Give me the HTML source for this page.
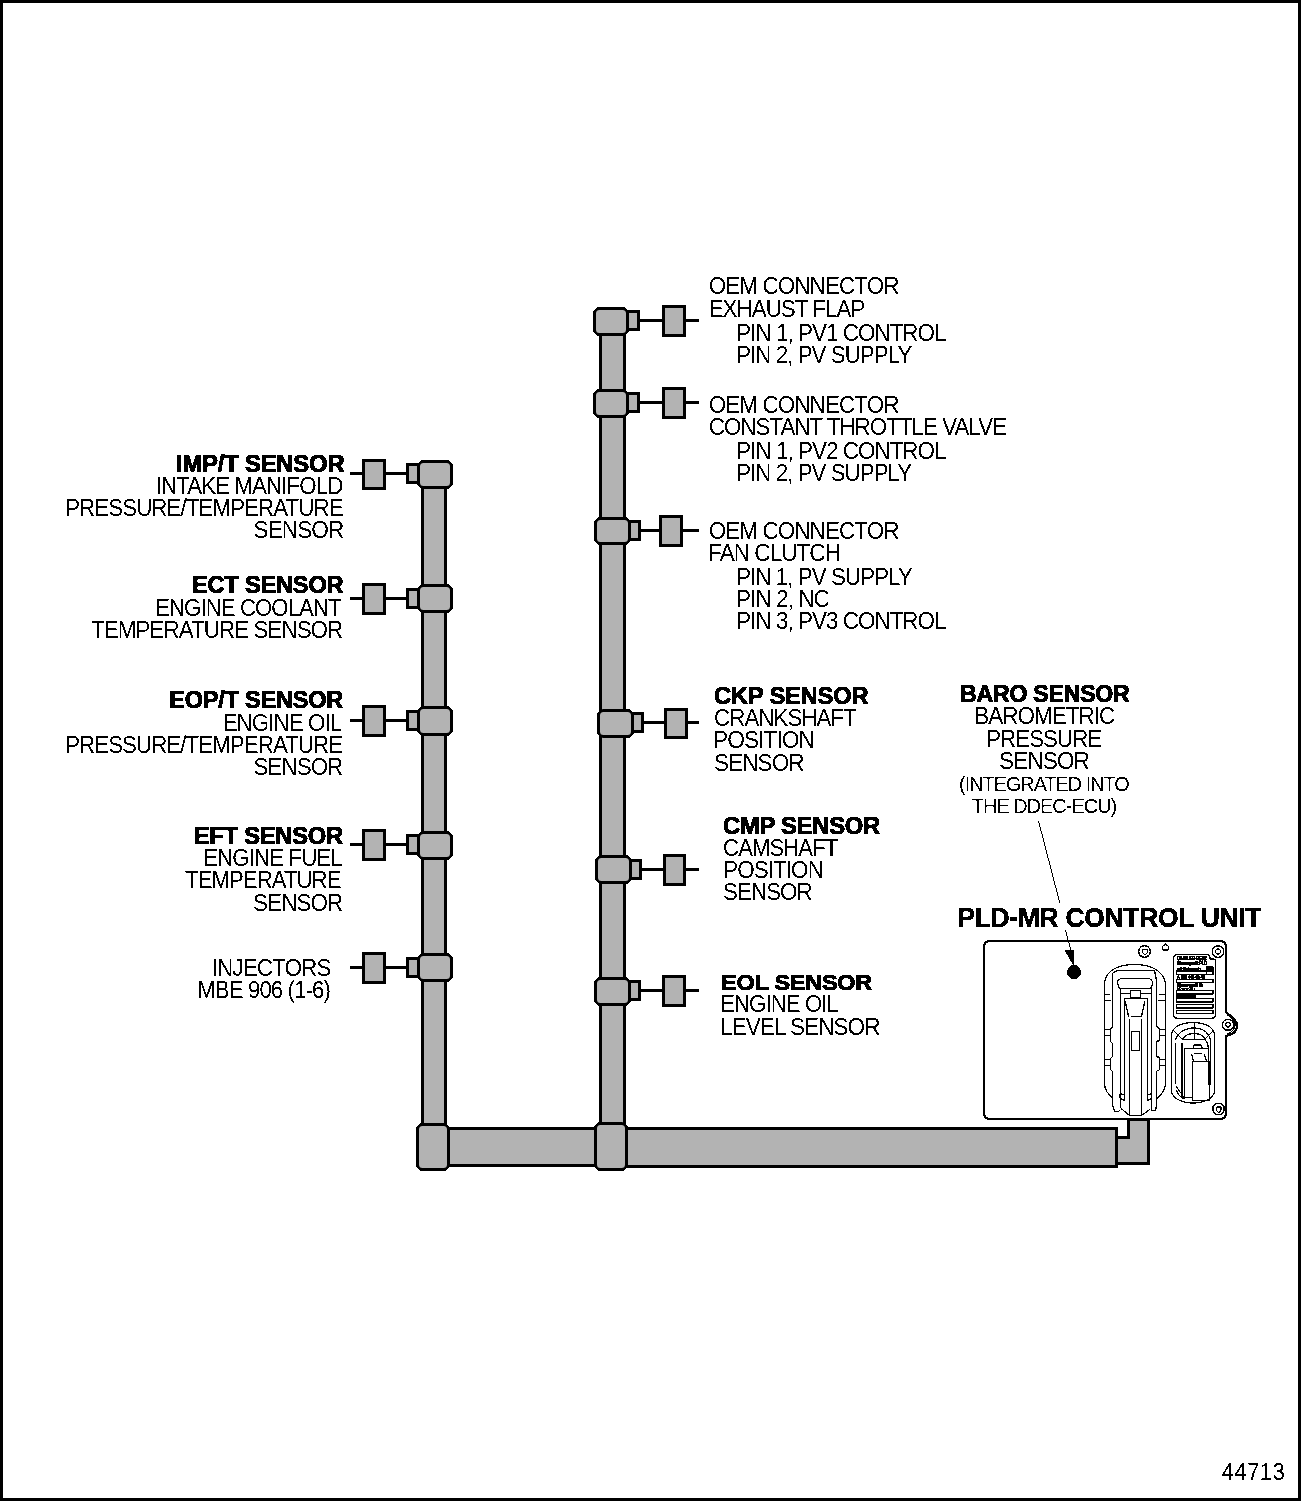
<!DOCTYPE html>
<html><head><meta charset="utf-8"><title>PLD-MR wiring</title>
<style>html,body{margin:0;padding:0;background:#fff;} svg{display:block;font-family:"Liberation Sans",sans-serif;}</style></head>
<body><svg width="1301" height="1501" viewBox="0 0 1301 1501">
<defs><filter id="crisp" x="0" y="0" width="1301" height="1501" filterUnits="userSpaceOnUse"><feComponentTransfer><feFuncA type="discrete" tableValues="0 1"/></feComponentTransfer></filter><filter id="crisp2" x="0" y="0" width="1301" height="1501" filterUnits="userSpaceOnUse"><feComponentTransfer><feFuncA type="discrete" tableValues="0 1 1"/></feComponentTransfer></filter></defs>
<rect x="1.5" y="1.5" width="1298" height="1498" rx="0" fill="#fff" stroke="#000" stroke-width="3"/>
<g filter="url(#crisp)">
<rect x="422.5" y="471.5" width="23" height="657" rx="0" fill="#b3b3b3" stroke="#000" stroke-width="3"/>
<rect x="446.5" y="1128.5" width="152" height="37" rx="0" fill="#b3b3b3" stroke="#000" stroke-width="3"/>
<rect x="621.5" y="1128.5" width="495" height="38" rx="0" fill="#b3b3b3" stroke="#000" stroke-width="3"/>
<rect x="600.5" y="331.5" width="24" height="793" rx="0" fill="#b3b3b3" stroke="#000" stroke-width="3"/>
<rect x="418.5" y="461.5" width="33" height="26" rx="5" fill="#b3b3b3" stroke="#000" stroke-width="3"/>
<rect x="418.5" y="585.5" width="33" height="26" rx="5" fill="#b3b3b3" stroke="#000" stroke-width="3"/>
<rect x="418.5" y="707.5" width="33" height="27" rx="5" fill="#b3b3b3" stroke="#000" stroke-width="3"/>
<rect x="418.5" y="832.5" width="33" height="26" rx="5" fill="#b3b3b3" stroke="#000" stroke-width="3"/>
<rect x="418.5" y="954.5" width="33" height="26" rx="5" fill="#b3b3b3" stroke="#000" stroke-width="3"/>
<rect x="417.5" y="1124.5" width="31" height="45" rx="5" fill="#b3b3b3" stroke="#000" stroke-width="3"/>
<rect x="595.5" y="1123.5" width="31" height="46" rx="5" fill="#b3b3b3" stroke="#000" stroke-width="3"/>
<rect x="350" y="472" width="14" height="3" fill="#000"/>
<rect x="384" y="472" width="24" height="3" fill="#000"/>
<rect x="407.5" y="464.5" width="11" height="18" rx="0" fill="#b3b3b3" stroke="#000" stroke-width="3"/>
<rect x="363.5" y="460.5" width="21" height="28" rx="0" fill="#b3b3b3" stroke="#000" stroke-width="3"/>
<rect x="350" y="597" width="14" height="3" fill="#000"/>
<rect x="384" y="597" width="24" height="3" fill="#000"/>
<rect x="407.5" y="589.5" width="11" height="18" rx="0" fill="#b3b3b3" stroke="#000" stroke-width="3"/>
<rect x="363.5" y="584.5" width="21" height="29" rx="0" fill="#b3b3b3" stroke="#000" stroke-width="3"/>
<rect x="350" y="719" width="14" height="3" fill="#000"/>
<rect x="384" y="719" width="24" height="3" fill="#000"/>
<rect x="407.5" y="711.5" width="11" height="18" rx="0" fill="#b3b3b3" stroke="#000" stroke-width="3"/>
<rect x="363.5" y="706.5" width="21" height="29" rx="0" fill="#b3b3b3" stroke="#000" stroke-width="3"/>
<rect x="350" y="843" width="14" height="3" fill="#000"/>
<rect x="384" y="843" width="24" height="3" fill="#000"/>
<rect x="407.5" y="835.5" width="11" height="18" rx="0" fill="#b3b3b3" stroke="#000" stroke-width="3"/>
<rect x="363.5" y="830.5" width="21" height="29" rx="0" fill="#b3b3b3" stroke="#000" stroke-width="3"/>
<rect x="350" y="966" width="14" height="3" fill="#000"/>
<rect x="384" y="966" width="24" height="3" fill="#000"/>
<rect x="407.5" y="958.5" width="11" height="18" rx="0" fill="#b3b3b3" stroke="#000" stroke-width="3"/>
<rect x="363.5" y="953.5" width="21" height="29" rx="0" fill="#b3b3b3" stroke="#000" stroke-width="3"/>
<rect x="638" y="319" width="26" height="3" fill="#000"/>
<rect x="684" y="319" width="15" height="3" fill="#000"/>
<rect x="594.5" y="308.5" width="33" height="26" rx="5" fill="#b3b3b3" stroke="#000" stroke-width="3"/>
<rect x="627.5" y="311.5" width="11" height="18" rx="0" fill="#b3b3b3" stroke="#000" stroke-width="3"/>
<rect x="663.5" y="306.5" width="21" height="29" rx="0" fill="#b3b3b3" stroke="#000" stroke-width="3"/>
<rect x="638" y="401" width="26" height="3" fill="#000"/>
<rect x="684" y="401" width="15" height="3" fill="#000"/>
<rect x="594.5" y="390.5" width="33" height="26" rx="5" fill="#b3b3b3" stroke="#000" stroke-width="3"/>
<rect x="627.5" y="393.5" width="11" height="18" rx="0" fill="#b3b3b3" stroke="#000" stroke-width="3"/>
<rect x="663.5" y="388.5" width="21" height="29" rx="0" fill="#b3b3b3" stroke="#000" stroke-width="3"/>
<rect x="639" y="529" width="22" height="3" fill="#000"/>
<rect x="681" y="529" width="18" height="3" fill="#000"/>
<rect x="595.5" y="518.5" width="34" height="25" rx="5" fill="#b3b3b3" stroke="#000" stroke-width="3"/>
<rect x="629.5" y="521.5" width="10" height="18" rx="0" fill="#b3b3b3" stroke="#000" stroke-width="3"/>
<rect x="660.5" y="516.5" width="21" height="29" rx="0" fill="#b3b3b3" stroke="#000" stroke-width="3"/>
<rect x="642" y="721" width="24" height="3" fill="#000"/>
<rect x="686" y="721" width="13" height="3" fill="#000"/>
<rect x="598.5" y="710.5" width="34" height="26" rx="5" fill="#b3b3b3" stroke="#000" stroke-width="3"/>
<rect x="632.5" y="713.5" width="10" height="18" rx="0" fill="#b3b3b3" stroke="#000" stroke-width="3"/>
<rect x="665.5" y="709.5" width="21" height="28" rx="0" fill="#b3b3b3" stroke="#000" stroke-width="3"/>
<rect x="640" y="868" width="25" height="3" fill="#000"/>
<rect x="684" y="868" width="15" height="3" fill="#000"/>
<rect x="596.5" y="856.5" width="34" height="26" rx="5" fill="#b3b3b3" stroke="#000" stroke-width="3"/>
<rect x="630.5" y="860.5" width="10" height="18" rx="0" fill="#b3b3b3" stroke="#000" stroke-width="3"/>
<rect x="664.5" y="855.5" width="20" height="29" rx="0" fill="#b3b3b3" stroke="#000" stroke-width="3"/>
<rect x="639" y="989" width="25" height="3" fill="#000"/>
<rect x="684" y="989" width="15" height="3" fill="#000"/>
<rect x="595.5" y="978.5" width="34" height="26" rx="5" fill="#b3b3b3" stroke="#000" stroke-width="3"/>
<rect x="629.5" y="981.5" width="10" height="18" rx="0" fill="#b3b3b3" stroke="#000" stroke-width="3"/>
<rect x="663.5" y="976.5" width="21" height="29" rx="0" fill="#b3b3b3" stroke="#000" stroke-width="3"/>
</g><g filter="url(#crisp2)">
<g fill="none" stroke="#000" stroke-width="1">
<!-- outline -->
<path d="M990,941 H1220 Q1226,941 1226,947 V1012 L1233,1018 Q1239,1024 1236,1030 Q1234,1034 1226,1036 V1113 Q1226,1119 1220,1119 H990 Q984,1119 984,1113 V947 Q984,941 990,941 Z" stroke-width="2"/>
<path d="M1227,1014.5 Q1235,1020 1235,1025 Q1235,1031 1227,1034" stroke-width="1"/>
<!-- screws -->
<circle cx="1144.5" cy="951.4" r="5.8" stroke-width="1.1"/>
<path d="M1142.5,949.5 H1147.5 V953 L1145,955 L1142.5,953 Z"/>
<circle cx="1218" cy="951.5" r="5.8" stroke-width="1.1"/>
<circle cx="1218" cy="951.5" r="2.6"/>
<circle cx="1228" cy="1024.8" r="5.6" stroke-width="1.1"/>
<circle cx="1228" cy="1024.8" r="2.3"/>
<circle cx="1218.5" cy="1109" r="5.8" stroke-width="1.1"/>
<path d="M1216.5,1107 H1221 V1110.5 L1218.8,1112.5 L1216.5,1110.5 Z"/>
<path d="M1162.5,946.5 L1165.5,944 L1168.5,946.5 L1168,950 H1163 Z"/>
<!-- label plate -->
<path d="M1178,954.5 H1208.5 L1210.5,959 H1213.5 Q1215.5,959 1215.5,961 V1014 Q1215.5,1018.5 1211,1018.5 H1178 Q1173.5,1018.5 1173.5,1014 V959 Q1173.5,954.5 1178,954.5 Z" stroke-width="1.2"/>
<rect x="1176.5" y="971" width="36.5" height="3.5"/>
<path d="M1206.5,971 V974.5"/>
<rect x="1176.5" y="979.5" width="36.5" height="3"/>
<rect x="1176.5" y="990.5" width="36.5" height="3.5"/>
<rect x="1176.5" y="998.5" width="36.5" height="3.5"/>
<rect x="1176.5" y="1004.5" width="36.5" height="3.5"/>
<rect x="1176.5" y="1010.5" width="36.5" height="3"/>
<!-- big connector -->
<path d="M1112.5,1098 Q1105,1092 1104.5,1084 V983 C1106,970 1119,964.5 1134.5,964.5 C1150,964.5 1163,970 1165.5,983 V1084 Q1165,1092 1156.5,1099"/>
<path d="M1117.5,970.5 H1154.5 L1156.5,981 V1026 L1159.5,1029 V1040.5 L1156.5,1041.5 V1056.5 L1159.5,1057.5 V1070 L1156.5,1071 V1105 L1155.5,1110.5 H1151.5"/>
<path d="M1117.5,970.5 L1112.5,973 V1027 L1110.5,1029 V1042 L1112.5,1043.5 V1056.5 L1110.5,1058 V1070 L1112.5,1071 V1105 L1114.5,1111.5 H1118.5 L1120.5,1110"/>
<path d="M1104.5,994.5 H1110 M1104.5,1000.5 H1110.5 M1104.5,1029.5 H1110 M1104.5,1035.5 H1110 M1104.5,1059.5 H1110 M1104.5,1065.5 H1110"/>
<path d="M1159,994.5 H1165.5 M1158.5,1000.5 H1165.5 M1159.5,1029.5 H1165 M1159.5,1035.5 H1165.5 M1159.5,1059.5 H1165.5 M1159.5,1065.5 H1165.5"/>
<path d="M1120,978.5 H1149.5 L1152.5,981 V984 L1150.5,988.5 H1119.5 L1117.5,983 V981 Z"/>
<path d="M1120.5,988.5 V1108 L1129.5,1115.5 H1141.5 L1150.5,1109 M1151.5,988.5 V1110"/>
<path d="M1120.5,993.5 H1130.5 M1140.5,993.5 H1151.5"/>
<rect x="1130.5" y="990.5" width="10" height="7"/>
<path d="M1124.5,1101 V998.5 H1147.5 V1101"/>
<path d="M1125,1000.5 L1128.5,1016.5 M1145,1000.5 L1141.5,1016.5 M1131,1016.5 H1141"/>
<path d="M1129.5,1019 V1116 M1141.5,1019 V1116"/>
<rect x="1131.5" y="1031.5" width="8" height="19"/>
<path d="M1124.5,1095 L1120,1093.5 V1098.5 L1124.5,1100.5 M1147.5,1095 L1151.5,1093.5 V1098.5 L1147.5,1100.5"/>
<!-- small connector -->
<path d="M1171.5,1035 C1171.5,1027 1182,1022.5 1193,1022.5 C1204,1022.5 1214.5,1027 1214.5,1035 V1091 C1214.5,1098 1204,1103 1193,1103 C1182,1103 1171.5,1098 1171.5,1091 Z"/>
<path d="M1175.5,1084 V1043 M1175.5,1040 C1177,1033 1185,1028 1194,1028 C1203,1028 1209,1033 1210.5,1040 V1085"/>
<path d="M1182.5,1039.5 C1184,1036 1188,1033.5 1194,1033.5 C1200,1033.5 1204,1036 1205.5,1039.5"/>
<path d="M1194.5,1022.5 V1039.5 M1174,1031 L1182.5,1039.5 M1213,1031 L1204.5,1039.5 M1182.5,1039.5 H1205"/>
<path d="M1182,1043 V1097.5 H1192.5 M1184.5,1048.5 V1097.5 M1184.5,1048.5 H1208.5 M1205,1039.5 Q1208.5,1043 1208.5,1048.5 V1085"/>
<path d="M1176,1086 L1184,1097.5 M1176,1090 Q1180,1098 1185,1099"/>
<rect x="1192.5" y="1061.5" width="17" height="39"/>
<path d="M1193.5,1048.5 V1045 H1201.5 L1202,1048.5"/>
<path d="M1194.5,1053.5 H1201.5 M1191.5,1054 L1193.5,1061 M1204,1054 L1206.5,1061"/>
</g>
<g fill="#000" stroke="#000" stroke-width="0.45" font-family="Liberation Sans" font-weight="bold">
<text x="1177" y="960" font-size="6" textLength="30" lengthAdjust="spacingAndGlyphs">DAIMLER-BENZ</text>
<text x="1177" y="965" font-size="6" textLength="30" lengthAdjust="spacingAndGlyphs">Steuergerät PLD</text>
<text x="1177" y="970.5" font-size="6" textLength="24" lengthAdjust="spacingAndGlyphs">mit Datensatz</text>
</g>
<g fill="#000" stroke="none" font-family="Liberation Sans" font-weight="bold">
<rect x="1206" y="966.5" width="7.5" height="4"/>
<text x="1177" y="978.5" font-size="5" textLength="28" lengthAdjust="spacingAndGlyphs" stroke="#000" stroke-width="0.3">A 000 446 00 40</text>
<text x="1177" y="986.5" font-size="5" textLength="26" lengthAdjust="spacingAndGlyphs" stroke="#000" stroke-width="0.4">Steuergerät Nr</text>
<text x="1177" y="990.5" font-size="4.5" textLength="24" lengthAdjust="spacingAndGlyphs">Motor-Nr ....</text>
<rect x="1176" y="995" width="20" height="3.5"/>
</g>

</g><g filter="url(#crisp)">
<path d="M1116.5,1137.5 H1128.5 V1119.5 H1148.5 V1163.5 H1116.5 Z" fill="#b3b3b3" stroke="#000" stroke-width="3"/>
<line x1="1038.5" y1="821" x2="1059.8" y2="903" stroke="#000" stroke-width="1"/>
<line x1="1065.5" y1="930" x2="1072" y2="955" stroke="#000" stroke-width="1"/>
<path d="M1064.5,950 L1074.5,950 L1073.5,966 Z" fill="#000"/>
<circle cx="1074" cy="972" r="7" fill="#000"/>
<text transform="translate(175.96,471.5) scale(1.0373,1)" font-size="23" font-weight="bold" style="letter-spacing:-0.2px" stroke="#000" stroke-width="0.9">IMP/T SENSOR</text>
<text transform="translate(155.64,494) scale(0.9322,1)" font-size="24" font-weight="normal" style="letter-spacing:-1.0px">INTAKE MANIFOLD</text>
<text transform="translate(65.14,516) scale(0.9307,1)" font-size="24" font-weight="normal" style="letter-spacing:-1.0px">PRESSURE/TEMPERATURE</text>
<text transform="translate(253.56,538) scale(0.9415,1)" font-size="24" font-weight="normal" style="letter-spacing:-1.0px">SENSOR</text>
<text transform="translate(191.97,592.5) scale(1.0274,1)" font-size="23" font-weight="bold" style="letter-spacing:-0.2px" stroke="#000" stroke-width="0.9">ECT SENSOR</text>
<text transform="translate(155.15,616) scale(0.9246,1)" font-size="24" font-weight="normal" style="letter-spacing:-1.0px">ENGINE COOLANT</text>
<text transform="translate(91.07,638) scale(0.9328,1)" font-size="24" font-weight="normal" style="letter-spacing:-1.0px">TEMPERATURE SENSOR</text>
<text transform="translate(169.28,707.5) scale(1.0219,1)" font-size="23" font-weight="bold" style="letter-spacing:-0.2px" stroke="#000" stroke-width="0.9">EOP/T SENSOR</text>
<text transform="translate(222.63,731) scale(0.9325,1)" font-size="24" font-weight="normal" style="letter-spacing:-1.0px">ENGINE OIL</text>
<text transform="translate(65.14,753) scale(0.9291,1)" font-size="24" font-weight="normal" style="letter-spacing:-1.0px">PRESSURE/TEMPERATURE</text>
<text transform="translate(253.57,775) scale(0.9309,1)" font-size="24" font-weight="normal" style="letter-spacing:-1.0px">SENSOR</text>
<text transform="translate(193.77,843.5) scale(1.0292,1)" font-size="23" font-weight="bold" style="letter-spacing:-0.2px" stroke="#000" stroke-width="0.9">EFT SENSOR</text>
<text transform="translate(203.14,866) scale(0.9320,1)" font-size="24" font-weight="normal" style="letter-spacing:-1.0px">ENGINE FUEL</text>
<text transform="translate(185.08,888) scale(0.9226,1)" font-size="24" font-weight="normal" style="letter-spacing:-1.0px">TEMPERATURE</text>
<text transform="translate(253.06,911) scale(0.9362,1)" font-size="24" font-weight="normal" style="letter-spacing:-1.0px">SENSOR</text>
<text transform="translate(211.72,976) scale(0.9395,1)" font-size="24" font-weight="normal" style="letter-spacing:-1.0px">INJECTORS</text>
<text transform="translate(197.14,998) scale(0.9291,1)" font-size="24" font-weight="normal" style="letter-spacing:-1.0px">MBE 906 (1-6)</text>
<text transform="translate(708.76,294) scale(0.9368,1)" font-size="24" font-weight="normal" style="letter-spacing:-1.0px">OEM CONNECTOR</text>
<text transform="translate(708.64,317) scale(0.9303,1)" font-size="24" font-weight="normal" style="letter-spacing:-1.0px">EXHAUST FLAP</text>
<text transform="translate(736.13,341) scale(0.9327,1)" font-size="24" font-weight="normal" style="letter-spacing:-1.0px">PIN 1, PV1 CONTROL</text>
<text transform="translate(736.14,363) scale(0.9283,1)" font-size="24" font-weight="normal" style="letter-spacing:-1.0px">PIN 2, PV SUPPLY</text>
<text transform="translate(708.76,413) scale(0.9368,1)" font-size="24" font-weight="normal" style="letter-spacing:-1.0px">OEM CONNECTOR</text>
<text transform="translate(708.77,435) scale(0.9295,1)" font-size="24" font-weight="normal" style="letter-spacing:-1.0px">CONSTANT THROTTLE VALVE</text>
<text transform="translate(736.13,459) scale(0.9327,1)" font-size="24" font-weight="normal" style="letter-spacing:-1.0px">PIN 1, PV2 CONTROL</text>
<text transform="translate(736.14,481) scale(0.9278,1)" font-size="24" font-weight="normal" style="letter-spacing:-1.0px">PIN 2, PV SUPPLY</text>
<text transform="translate(708.76,539) scale(0.9368,1)" font-size="24" font-weight="normal" style="letter-spacing:-1.0px">OEM CONNECTOR</text>
<text transform="translate(708.12,561) scale(0.9377,1)" font-size="24" font-weight="normal" style="letter-spacing:-1.0px">FAN CLUTCH</text>
<text transform="translate(736.14,585) scale(0.9305,1)" font-size="24" font-weight="normal" style="letter-spacing:-1.0px">PIN 1, PV SUPPLY</text>
<text transform="translate(736.12,607) scale(0.9381,1)" font-size="24" font-weight="normal" style="letter-spacing:-1.0px">PIN 2, NC</text>
<text transform="translate(736.13,629) scale(0.9327,1)" font-size="24" font-weight="normal" style="letter-spacing:-1.0px">PIN 3, PV3 CONTROL</text>
<text transform="translate(713.97,703.5) scale(1.0315,1)" font-size="23" font-weight="bold" style="letter-spacing:-0.2px" stroke="#000" stroke-width="0.9">CKP SENSOR</text>
<text transform="translate(714.07,726) scale(0.9303,1)" font-size="24" font-weight="normal" style="letter-spacing:-1.0px">CRANKSHAFT</text>
<text transform="translate(713.11,748) scale(0.9462,1)" font-size="24" font-weight="normal" style="letter-spacing:-1.0px">POSITION</text>
<text transform="translate(714.06,771) scale(0.9404,1)" font-size="24" font-weight="normal" style="letter-spacing:-1.0px">SENSOR</text>
<text transform="translate(722.97,833.5) scale(1.0311,1)" font-size="23" font-weight="bold" style="letter-spacing:-0.2px" stroke="#000" stroke-width="0.9">CMP SENSOR</text>
<text transform="translate(723.08,856) scale(0.9220,1)" font-size="24" font-weight="normal" style="letter-spacing:-1.0px">CAMSHAFT</text>
<text transform="translate(723.13,878) scale(0.9356,1)" font-size="24" font-weight="normal" style="letter-spacing:-1.0px">POSITION</text>
<text transform="translate(723.07,900) scale(0.9298,1)" font-size="24" font-weight="normal" style="letter-spacing:-1.0px">SENSOR</text>
<text transform="translate(720.98,989.5) scale(1.0190,1)" font-size="23" font-weight="bold" style="letter-spacing:-0.2px" stroke="#000" stroke-width="0.9">EOL SENSOR</text>
<text transform="translate(720.15,1012) scale(0.9246,1)" font-size="24" font-weight="normal" style="letter-spacing:-1.0px">ENGINE OIL</text>
<text transform="translate(720.12,1035) scale(0.9383,1)" font-size="24" font-weight="normal" style="letter-spacing:-1.0px">LEVEL SENSOR</text>
<text transform="translate(960.00,701.5) scale(1.0036,1)" font-size="23" font-weight="bold" style="letter-spacing:-0.2px" stroke="#000" stroke-width="0.9">BARO SENSOR</text>
<text transform="translate(974.13,724) scale(0.9345,1)" font-size="24" font-weight="normal" style="letter-spacing:-1.0px">BAROMETRIC</text>
<text transform="translate(986.14,747) scale(0.9287,1)" font-size="24" font-weight="normal" style="letter-spacing:-1.0px">PRESSURE</text>
<text transform="translate(999.06,769) scale(0.9436,1)" font-size="24" font-weight="normal" style="letter-spacing:-1.0px">SENSOR</text>
<text transform="translate(959.01,791) scale(0.9935,1)" font-size="20" font-weight="normal" style="letter-spacing:-1.0px">(INTEGRATED INTO</text>
<text transform="translate(971.80,813) scale(0.9979,1)" font-size="20" font-weight="normal" style="letter-spacing:-1.0px">THE DDEC-ECU)</text>
<text transform="translate(957.38,927.0) scale(0.9611,1)" font-size="27.5" font-weight="bold" style="letter-spacing:-0.3px" stroke="#000" stroke-width="0.45">PLD-MR CONTROL UNIT</text>
<text transform="translate(1221.87,1480) scale(0.9273,1)" font-size="24" font-weight="normal" style="letter-spacing:0.3px">44713</text>
</g>
</svg></body></html>
